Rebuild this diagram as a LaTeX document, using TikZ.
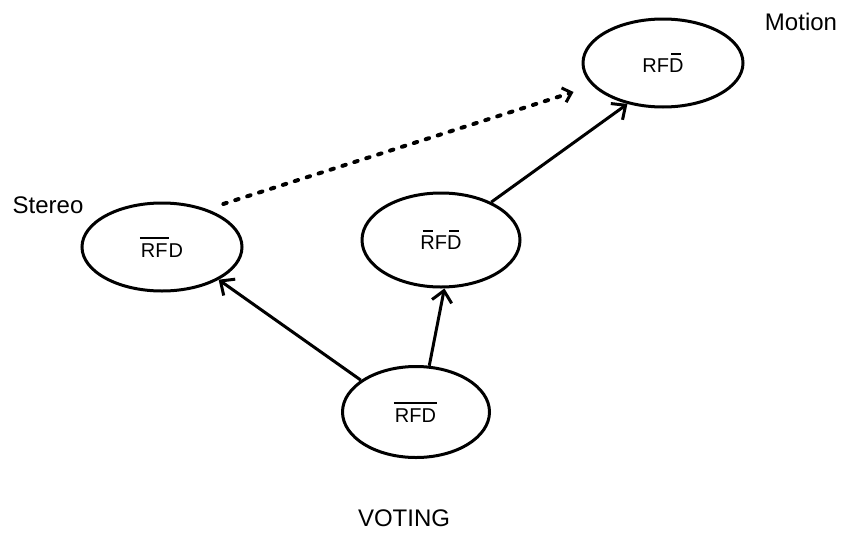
\documentclass[tikz,border=0pt]{standalone}
\usepackage{fontspec}
\setmainfont{Liberation Sans}
\usetikzlibrary{shapes.geometric,arrows.meta}

% short bar over a single letter
\newcommand\barone[1]{\setbox0=\hbox{#1}\vbox{\offinterlineskip\hbox{\kern.15\wd0\vrule height 2.2pt depth 0pt width .7\wd0}\kern 4pt\box0}}
% bar over a whole group of letters
\newcommand\barall[1]{\setbox0=\hbox{#1}\vbox{\offinterlineskip\hbox{\kern-1pt\vrule height 2.2pt depth 0pt width \dimexpr\wd0+2pt\relax}\kern 5pt\box0}}

\begin{document}
\begin{tikzpicture}[x=1pt,y=-1pt,
  state/.style={ellipse,draw,line width=3pt,inner sep=0pt,
    font=\fontsize{20}{24}\selectfont},
  caption/.style={inner sep=0pt,font=\fontsize{24}{28}\selectfont},
  arr/.style={line width=3pt,-{Straight Barb[length=11pt,width=20pt,line width=3pt]}},
  dotarr/.style={line width=4pt,line cap=round,dash pattern=on 3.5pt off 9pt,
    -{Straight Barb[length=8pt,width=15pt,line width=3pt]}}]
  \useasboundingbox (0,0) rectangle (842,538);

  % states
  \node[state,minimum width=160pt,minimum height=88pt] (stereo) at (162,247) {\barall{RF}D};
  \node[state,minimum width=158pt,minimum height=94pt] (mid) at (441,240) {\barone{R}F\barone{D}};
  \node[state,minimum width=147pt,minimum height=91pt] (vote) at (416,412) {\barall{RFD}};
  \node[state,minimum width=160pt,minimum height=88pt] (motion) at (663,63) {RF\barone{D}};

  % captions
  \node[caption] (lstereo) at (48,205) {Stereo};
  \node[caption] (lmotion) at (801,22) {Motion};
  \node[caption] (lvote) at (404,518) {VOTING};

  % transitions
  \draw[arr] (vote.150) -- (stereo.-30);
  \draw[arr] (vote.74) -- (mid.-86);
  \draw[arr] (mid.37) -- (motion.-131);
  \draw[dotarr,shorten <=17pt,shorten >=20pt] (stereo.40) -- (motion.198);
\end{tikzpicture}
\end{document}
